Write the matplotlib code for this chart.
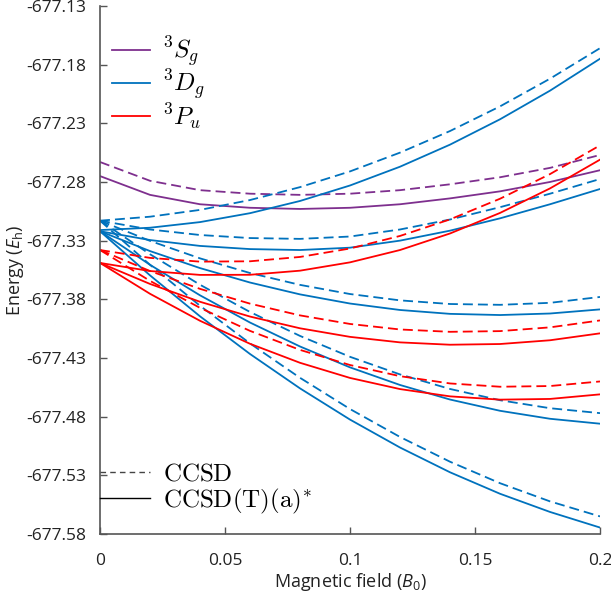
import numpy as np
import matplotlib
matplotlib.use("Agg")
import matplotlib.pyplot as plt
from matplotlib.lines import Line2D

plt.rcParams['font.family'] = ['Open Sans', 'DejaVu Sans']
plt.rcParams['mathtext.fontset'] = 'custom'
plt.rcParams['mathtext.rm'] = 'Open Sans'
plt.rcParams['mathtext.it'] = 'Open Sans:italic'
plt.rcParams['axes.unicode_minus'] = False

# magnetic field (B0)
B = [0, 0.02, 0.04, 0.06, 0.08, 0.10, 0.12, 0.14, 0.16, 0.18, 0.20]

# energies (Eh), CCSD (dashed) and CCSD(T)(a)* (solid)
Sg_ccsd = [-677.263, -677.279, -677.287, -677.290, -677.291, -677.290, -677.287, -677.282, -677.276, -677.268, -677.257]
Sg_ccsdt = [-677.275, -677.291, -677.299, -677.302, -677.303, -677.302, -677.299, -677.294, -677.288, -677.280, -677.270]

D1_ccsd = [-677.313, -677.3096, -677.3038, -677.2954, -677.2844, -677.271, -677.255, -677.2366, -677.2156, -677.192, -677.166]
D1_ccsdt = [-677.321, -677.319, -677.3142, -677.3066, -677.2962, -677.283, -677.267, -677.2482, -677.2266, -677.2022, -677.175]
D2_ccsd = [-677.313, -677.3205, -677.3252, -677.3278, -677.3285, -677.3265, -677.3205, -677.312, -677.3015, -677.290, -677.2775]
D2_ccsdt = [-677.322, -677.3295, -677.3345, -677.3372, -677.338, -677.336, -677.330, -677.3215, -677.311, -677.299, -677.286]
D3_ccsd = [-677.313, -677.3302, -677.3451, -677.3576, -677.3677, -677.3755, -677.3809, -677.384, -677.3847, -677.383, -677.378]
D3_ccsdt = [-677.322, -677.3389, -677.3534, -677.3657, -677.3758, -677.3836, -677.3891, -677.3924, -677.3934, -677.3921, -677.3886]
D4_ccsd = [-677.313, -677.3416, -677.3676, -677.3908, -677.4112, -677.429, -677.444, -677.4564, -677.466, -677.4728, -677.477]
D4_ccsdt = [-677.322, -677.3506, -677.3766, -677.3998, -677.4202, -677.438, -677.453, -677.4654, -677.475, -677.4818, -677.486]
D5_ccsd = [-677.313, -677.3506, -677.3855, -677.4176, -677.4469, -677.4735, -677.4973, -677.5184, -677.5367, -677.5522, -677.565]
D5_ccsdt = [-677.322, -677.3596, -677.3945, -677.4266, -677.4559, -677.4825, -677.5063, -677.5274, -677.5457, -677.5612, -677.5745]

P1_ccsd = [-677.338, -677.3447, -677.3479, -677.3476, -677.3439, -677.3367, -677.326, -677.3119, -677.2943, -677.2733, -677.2488]
P1_ccsdt = [-677.349, -677.3559, -677.3592, -677.3591, -677.3556, -677.3485, -677.338, -677.3239, -677.3064, -677.2855, -677.261]
P2_ccsd = [-677.338, -677.3559, -677.3711, -677.3837, -677.3937, -677.401, -677.4057, -677.4077, -677.4071, -677.4039, -677.398]
P2_ccsdt = [-677.349, -677.3669, -677.3821, -677.3947, -677.4047, -677.412, -677.4167, -677.4187, -677.4181, -677.4149, -677.409]
P3_ccsd = [-677.338, -677.3643, -677.3873, -677.4069, -677.4231, -677.436, -677.4455, -677.4517, -677.4545, -677.4539, -677.450]
P3_ccsdt = [-677.349, -677.3753, -677.3983, -677.4179, -677.4341, -677.447, -677.4565, -677.4627, -677.4655, -677.4649, -677.461]

yticks = [-677.58, -677.53, -677.48, -677.43, -677.38, -677.33, -677.28, -677.23, -677.18, -677.13]
xticks = [0, 0.05, 0.1, 0.15, 0.2]
xticklabels = ['0', '0.05', '0.1', '0.15', '0.2']

c_S = '#7E2F8E'
c_D = '#0072BD'
c_P = '#FF0000'
lw = 1.3
dash = (5.5, 2.8)

groups = [
    (c_S, [(Sg_ccsd, Sg_ccsdt)]),
    (c_D, [(D1_ccsd, D1_ccsdt), (D2_ccsd, D2_ccsdt), (D3_ccsd, D3_ccsdt),
           (D4_ccsd, D4_ccsdt), (D5_ccsd, D5_ccsdt)]),
    (c_P, [(P1_ccsd, P1_ccsdt), (P2_ccsd, P2_ccsdt), (P3_ccsd, P3_ccsdt)]),
]

fig, ax = plt.subplots(figsize=(6.11, 5.94), dpi=100)
fig.subplots_adjust(left=0.1637, right=0.982, top=0.990, bottom=0.101)

for color, pairs in groups:
    for e_cc, e_t in pairs:
        ax.plot(B, e_cc, color=color, lw=lw, dashes=dash)
        ax.plot(B, e_t, color=color, lw=lw)

ax.set_xlim(0, 0.2)
ax.set_ylim(-677.58, -677.13)
ax.set_xticks(xticks, xticklabels)
ax.set_yticks(yticks, [f'{v:.2f}' for v in yticks])
ax.tick_params(direction='in', length=5, width=1, color='#555555', labelsize=12.5, labelcolor='#222222')
ax.tick_params(axis='y', pad=10)
ax.tick_params(axis='x', pad=14)
for s in ['top', 'right']:
    ax.spines[s].set_visible(False)
for s in ['left', 'bottom']:
    ax.spines[s].set_color('#555555')
    ax.spines[s].set_linewidth(1.2)

ax.set_xlabel('Magnetic field ($B_0$)', fontsize=13, labelpad=1, color='#222222')
ax.set_ylabel(r'Energy ($E_\mathrm{h}$)', fontsize=13, labelpad=0, color='#222222')

h1 = [Line2D([], [], color=c_S, lw=lw), Line2D([], [], color=c_D, lw=lw), Line2D([], [], color=c_P, lw=lw)]
leg1 = ax.legend(h1, [r'$^3S_g$', r'$^3D_g$', r'$^3P_u$'], loc='upper left',
                 bbox_to_anchor=(0.004, 0.965), frameon=False,
                 prop={'size': 18, 'math_fontfamily': 'cm'},
                 handlelength=1.5, handletextpad=0.5, labelspacing=-0.04, borderaxespad=0.0)
ax.add_artist(leg1)

h2 = [Line2D([], [], color='#444444', lw=1.0, dashes=(4, 3)), Line2D([], [], color='black', lw=1.0)]
ax.legend(h2, [r'$\mathrm{CCSD}$', r'$\mathrm{CCSD(T)(a)}^{*}$'], loc='lower left',
          bbox_to_anchor=(-0.02, 0.016), frameon=False,
          prop={'size': 18, 'math_fontfamily': 'cm'},
          handlelength=2.0, handletextpad=0.5, labelspacing=0.0, borderaxespad=0.0)

fig.savefig('out.png', dpi=100)
